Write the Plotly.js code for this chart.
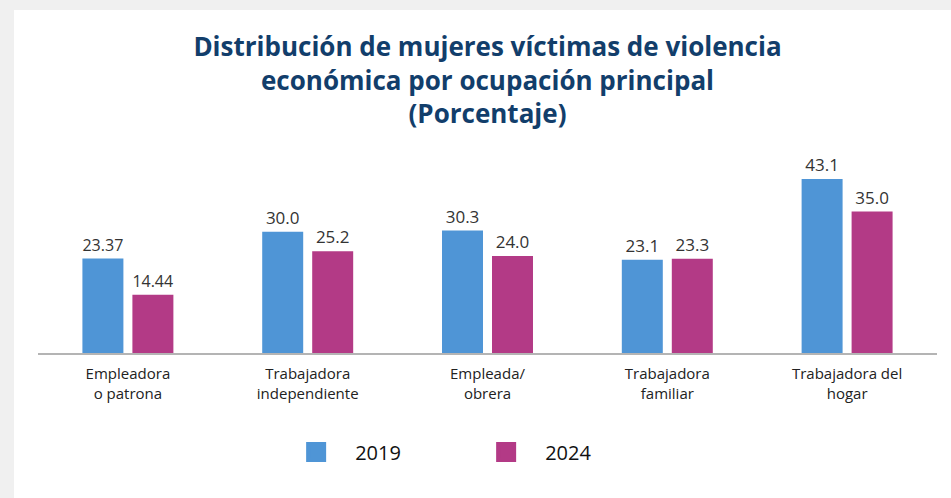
<!DOCTYPE html>
<html>
<head>
<meta charset="utf-8">
<script src="https://cdn.plot.ly/plotly-3.0.1.min.js"></script>
<style>
  html, body { margin: 0; padding: 0; background: #f0f0f0; }
  #chart { position: absolute; left: 14px; top: 10px; width: 937px; height: 488px; }
</style>
</head>
<body>
<div id="chart"></div>
<script>
var categories = ['Empleadora<br>o patrona', 'Trabajadora<br>independiente', 'Empleada/<br>obrera',
  'Trabajadora<br>familiar', 'Trabajadora del<br>hogar'];

var years = ['2019', '2024'];
var values2019 = [23.37, 30.0, 30.3, 23.1, 43.1];
var values2024 = [14.44, 25.2, 24.0, 23.3, 35.0];

// labels as printed in the source
var labels2019 = ['23.37', '30.0', '30.3', '23.1', '43.1'];
var labels2024 = ['14.44', '25.2', '24.0', '23.3', '35.0'];

var colors = ['#4f95d6', '#b33a86'];
var labelFont = { family: 'Open Sans, sans-serif', size: 17, color: '#333333' };

var series = [values2019, values2024];
var seriesLabels = [labels2019, labels2024];

var data = [];
for (var i = 0; i < years.length; i++) {
  data.push({
    x: categories,
    y: series[i],
    name: years[i],
    legendgroup: years[i],
    showlegend: false,
    type: 'bar',
    text: seriesLabels[i],
    textposition: 'outside',
    textfont: labelFont,
    cliponaxis: false,
    marker: { color: colors[i] },
    hoverinfo: 'x+y'
  });
}
// legend-only entries so the legend squares can be bigger
for (var i = 0; i < years.length; i++) {
  data.push({
    x: [null],
    y: [null],
    name: years[i],
    legendgroup: years[i],
    type: 'scatter',
    mode: 'markers',
    marker: { symbol: 'square', size: 22, color: colors[i], line: { width: 4, color: colors[i] } },
    hoverinfo: 'skip'
  });
}

var layout = {
  width: 937,
  height: 488,
  paper_bgcolor: '#ffffff',
  plot_bgcolor: '#ffffff',
  margin: { l: 24, r: 14, t: 141, b: 145 },
  barmode: 'group',
  bargap: 0.444,
  bargroupgap: 0.18,
  title: {
    text: 'Distribución de mujeres víctimas de violencia<br>económica por ocupación principal<br>(Porcentaje)',
    font: { family: 'Open Sans, sans-serif', size: 26, color: '#123e6b', weight: 700 },
    xref: 'paper',
    x: 0.5,
    xanchor: 'center',
    yref: 'container',
    y: 0.906,
    yanchor: 'top'
  },
  xaxis: {
    showline: true,
    linecolor: '#b4b4b4',
    linewidth: 2,
    showgrid: false,
    ticks: 'outside',
    ticklen: 6,
    tickcolor: 'rgba(0,0,0,0)',
    tickfont: { family: 'Open Sans, sans-serif', size: 15, color: '#222222' }
  },
  yaxis: {
    range: [0, 50],
    showgrid: false,
    zeroline: false,
    showline: false,
    showticklabels: false
  },
  showlegend: true,
  legend: {
    orientation: 'h',
    x: 0.266,
    xanchor: 'left',
    y: -0.49,
    yanchor: 'middle',
    itemwidth: 68,
    entrywidth: 107,
    font: { family: 'Open Sans, sans-serif', size: 20, color: '#111111' }
  }
};

Plotly.newPlot('chart', data, layout, { displayModeBar: false });
</script>
</body>
</html>
